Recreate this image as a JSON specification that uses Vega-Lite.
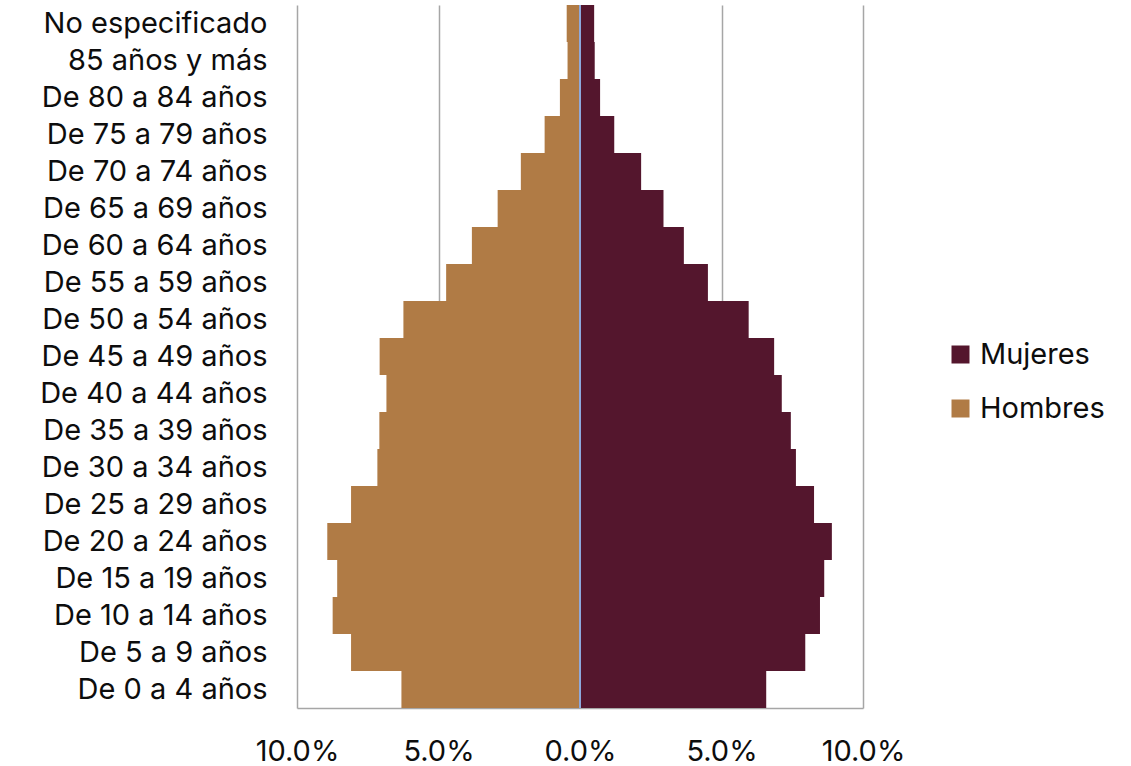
{
  "$schema": "https://vega.github.io/schema/vega-lite/v6.json",
  "autosize": "none",
  "width": 566,
  "height": 703,
  "padding": {"left": 297, "top": 5, "right": 268, "bottom": 58},
  "background": "white",
  "config": {
    "font": "Inter",
    "view": {"stroke": null},
    "axis": {"labelFont": "Inter", "labelColor": "#0d0d0d"},
    "legend": {"labelFont": "Inter"}
  },
  "data": {
    "values": [
      {"edad": "No especificado", "sexo": "Hombres", "pct": -0.47},
      {"edad": "85 años y más", "sexo": "Hombres", "pct": -0.44},
      {"edad": "De 80 a 84 años", "sexo": "Hombres", "pct": -0.71},
      {"edad": "De 75 a 79 años", "sexo": "Hombres", "pct": -1.25},
      {"edad": "De 70 a 74 años", "sexo": "Hombres", "pct": -2.09},
      {"edad": "De 65 a 69 años", "sexo": "Hombres", "pct": -2.91},
      {"edad": "De 60 a 64 años", "sexo": "Hombres", "pct": -3.82},
      {"edad": "De 55 a 59 años", "sexo": "Hombres", "pct": -4.73},
      {"edad": "De 50 a 54 años", "sexo": "Hombres", "pct": -6.24},
      {"edad": "De 45 a 49 años", "sexo": "Hombres", "pct": -7.08},
      {"edad": "De 40 a 44 años", "sexo": "Hombres", "pct": -6.84},
      {"edad": "De 35 a 39 años", "sexo": "Hombres", "pct": -7.09},
      {"edad": "De 30 a 34 años", "sexo": "Hombres", "pct": -7.16},
      {"edad": "De 25 a 29 años", "sexo": "Hombres", "pct": -8.09},
      {"edad": "De 20 a 24 años", "sexo": "Hombres", "pct": -8.93},
      {"edad": "De 15 a 19 años", "sexo": "Hombres", "pct": -8.58},
      {"edad": "De 10 a 14 años", "sexo": "Hombres", "pct": -8.74},
      {"edad": "De 5 a 9 años", "sexo": "Hombres", "pct": -8.09},
      {"edad": "De 0 a 4 años", "sexo": "Hombres", "pct": -6.31},
      {"edad": "No especificado", "sexo": "Mujeres", "pct": 0.5},
      {"edad": "85 años y más", "sexo": "Mujeres", "pct": 0.52},
      {"edad": "De 80 a 84 años", "sexo": "Mujeres", "pct": 0.71},
      {"edad": "De 75 a 79 años", "sexo": "Mujeres", "pct": 1.21},
      {"edad": "De 70 a 74 años", "sexo": "Mujeres", "pct": 2.16},
      {"edad": "De 65 a 69 años", "sexo": "Mujeres", "pct": 2.95},
      {"edad": "De 60 a 64 años", "sexo": "Mujeres", "pct": 3.67},
      {"edad": "De 55 a 59 años", "sexo": "Mujeres", "pct": 4.52},
      {"edad": "De 50 a 54 años", "sexo": "Mujeres", "pct": 5.96},
      {"edad": "De 45 a 49 años", "sexo": "Mujeres", "pct": 6.86},
      {"edad": "De 40 a 44 años", "sexo": "Mujeres", "pct": 7.13},
      {"edad": "De 35 a 39 años", "sexo": "Mujeres", "pct": 7.45},
      {"edad": "De 30 a 34 años", "sexo": "Mujeres", "pct": 7.63},
      {"edad": "De 25 a 29 años", "sexo": "Mujeres", "pct": 8.27},
      {"edad": "De 20 a 24 años", "sexo": "Mujeres", "pct": 8.9},
      {"edad": "De 15 a 19 años", "sexo": "Mujeres", "pct": 8.63},
      {"edad": "De 10 a 14 años", "sexo": "Mujeres", "pct": 8.48},
      {"edad": "De 5 a 9 años", "sexo": "Mujeres", "pct": 7.96},
      {"edad": "De 0 a 4 años", "sexo": "Mujeres", "pct": 6.58}
    ]
  },
  "layer": [
    {
      "mark": {"type": "bar"},
      "encoding": {
        "y": {
          "field": "edad",
          "type": "nominal",
          "sort": ["No especificado", "85 años y más", "De 80 a 84 años", "De 75 a 79 años", "De 70 a 74 años", "De 65 a 69 años", "De 60 a 64 años", "De 55 a 59 años", "De 50 a 54 años", "De 45 a 49 años", "De 40 a 44 años", "De 35 a 39 años", "De 30 a 34 años", "De 25 a 29 años", "De 20 a 24 años", "De 15 a 19 años", "De 10 a 14 años", "De 5 a 9 años", "De 0 a 4 años"],
          "scale": {"paddingInner": 0, "paddingOuter": 0},
          "axis": {
            "title": null,
            "domain": false,
            "ticks": false,
            "labelFontSize": 29,
            "labelPadding": 30,
            "labelLimit": 400
          }
        },
        "x": {
          "field": "pct",
          "type": "quantitative",
          "stack": null,
          "scale": {"domain": [-10, 10], "nice": false, "zero": false},
          "axis": {
            "title": null,
            "values": [-10, -5, 0, 5, 10],
            "labelExpr": "format(abs(datum.value) / 100, '.1%')",
            "labelFontSize": 29,
            "labelPadding": 29,
            "ticks": false,
            "domain": true,
            "domainColor": "#a6a6a6",
            "domainWidth": 1.5,
            "grid": true,
            "gridColor": "#a6a6a6",
            "gridWidth": 1.5,
            "labelFlush": false
          }
        },
        "color": {
          "field": "sexo",
          "type": "nominal",
          "scale": {"domain": ["Mujeres", "Hombres"], "range": ["#54162D", "#B07B45"]},
          "legend": {
            "title": null,
            "orient": "none",
            "legendX": 649,
            "legendY": 335,
            "symbolType": "square",
            "symbolSize": 324,
            "symbolStrokeWidth": 0,
            "labelFontSize": 29,
            "labelColor": "#0d0d0d",
            "labelOffset": 5,
            "rowPadding": 24,
            "padding": 0
          }
        }
      }
    },
    {
      "mark": {"type": "rule", "color": "#8EA9DB", "strokeWidth": 1.5},
      "encoding": {"x": {"datum": 0}}
    }
  ]
}
